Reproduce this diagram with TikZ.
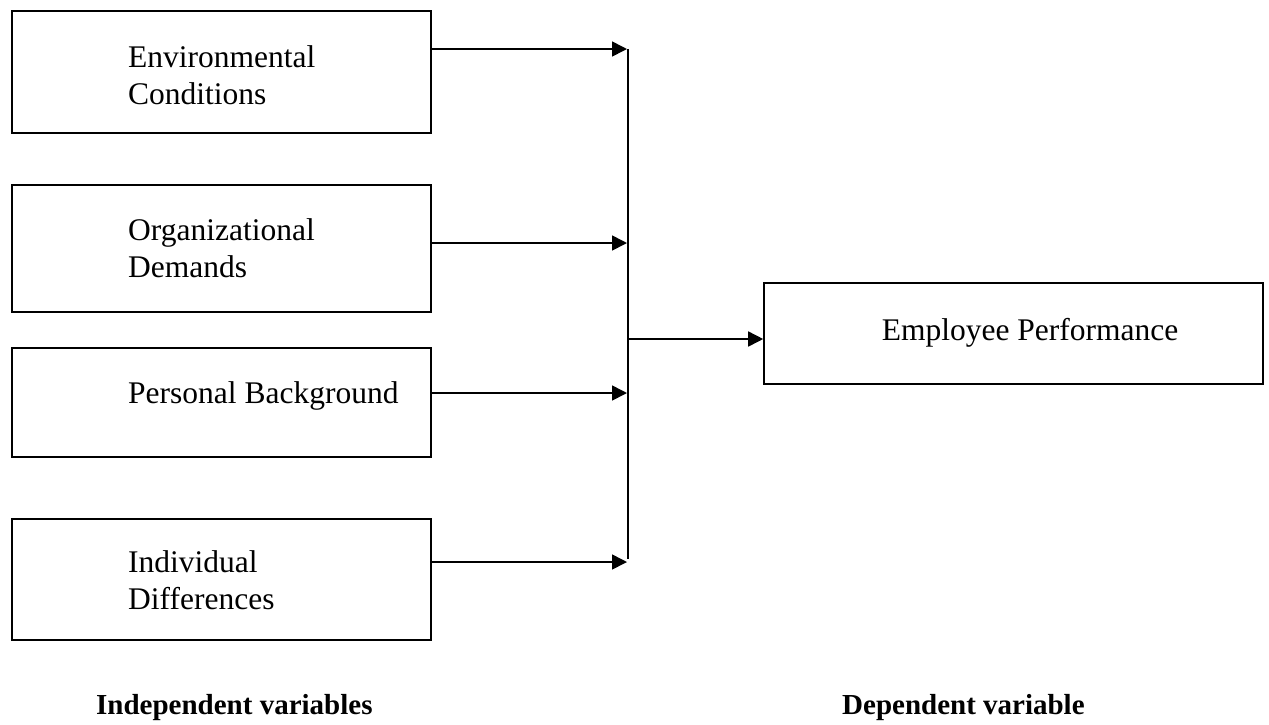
\documentclass[tikz,border=0pt]{standalone}
\usepackage{fontspec}
\setmainfont{Liberation Serif}
\usetikzlibrary{arrows.meta}
\begin{document}
\begin{tikzpicture}[x=1pt,y=-1pt,
  box/.style={draw=black, line width=1.6pt, inner sep=0pt, minimum width=419pt},
  lbl/.style={anchor=base west, inner sep=0pt, font=\fontsize{31.5}{37}\selectfont},
  head/.style={anchor=base west, inner sep=0pt, font=\fontsize{29}{35}\selectfont\bfseries},
  arr/.style={line width=1.6pt, -{Triangle[length=15pt,width=15pt]}},
  ln/.style={line width=1.6pt}]
\useasboundingbox (0,0) rectangle (1269,724);
% left boxes
\node[box, minimum height=122pt] (b1) at (221.5,72) {};
\node[box, minimum height=127pt] (b2) at (221.5,248.5) {};
\node[box, minimum height=109pt] (b3) at (221.5,402.5) {};
\node[box, minimum height=121pt] (b4) at (221.5,579.5) {};
% right box
\node[box, minimum width=499pt, minimum height=101pt] (emp) at (1013.5,333.5) {};
% texts
\node[lbl] (t1a) at (128,67) {Environmental};
\node[lbl] (t1b) at (128,104) {Conditions};
\node[lbl] (t2a) at (128,240) {Organizational};
\node[lbl] (t2b) at (128,277) {Demands};
\node[lbl] (t3) at (128,403) {Personal Background};
\node[lbl] (t4a) at (128,572) {Individual};
\node[lbl] (t4b) at (128,609) {Differences};
\node[anchor=base, inner sep=0pt, font=\fontsize{31.5}{37}\selectfont] (te) at (1030,340) {Employee Performance};
\node[head] (h1) at (96,714) {Independent variables};
\node[head] (h2) at (842,714) {Dependent variable};
% junction coordinates
\coordinate (a1) at (627,49);
\coordinate (a2) at (627,243);
\coordinate (a3) at (627,393);
\coordinate (a4) at (627,562);
\coordinate (vt) at (628,49);
\coordinate (vb) at (628,559);
\coordinate (vm) at (628,339);
% connectors
\draw[arr] (b1.east |- a1) -- (a1);
\draw[arr] (b2.east |- a2) -- (a2);
\draw[arr] (b3.east |- a3) -- (a3);
\draw[arr] (b4.east |- a4) -- (a4);
\draw[ln] (vt) -- (vb);
\draw[arr] (vm) -- (emp.west |- vm);
\end{tikzpicture}
\end{document}
